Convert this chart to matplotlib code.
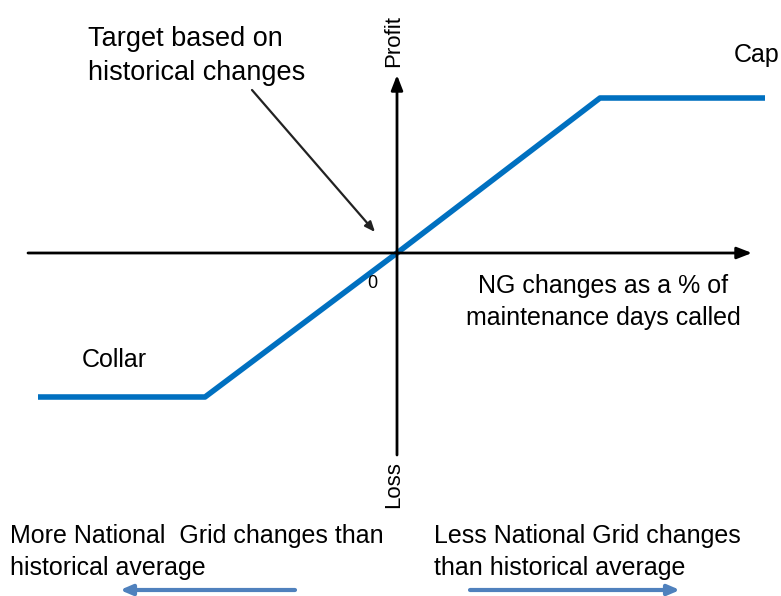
import matplotlib.pyplot as plt

# payoff profile (x: NG changes, y: profit), origin at the axis cross
payoff_x = [-359, -192, 0, 203, 368]
payoff_y = [-144, -144, 0, 155, 155]

plt.rcParams['font.family'] = ['Liberation Sans', 'DejaVu Sans']

fig = plt.figure(figsize=(7.81, 5.96), dpi=100)
ax = fig.add_axes([0, 0, 1, 1])
ax.set_xlim(-397, 384)
ax.set_ylim(-343, 253)
ax.axis('off')

# axes with arrows
ax.annotate('', xy=(355, 0), xytext=(-369, 0),
            arrowprops=dict(arrowstyle='-|>,head_length=0.9,head_width=0.35',
                            color='black', lw=2, shrinkA=0, shrinkB=0))
ax.annotate('', xy=(0, 178), xytext=(0, -202),
            arrowprops=dict(arrowstyle='-|>,head_length=0.9,head_width=0.35',
                            color='black', lw=2, shrinkA=0, shrinkB=0))

# payoff line
ax.plot(payoff_x, payoff_y, color='#0070C0', lw=4, solid_capstyle='butt')

# pointer to target
ax.annotate('', xy=(-22, 21), xytext=(-145, 163),
            arrowprops=dict(arrowstyle='-|>,head_length=0.6,head_width=0.25',
                            color='#222222', lw=1.6, shrinkA=0, shrinkB=0))

fs = 18
ax.text(-309, 197, 'Target based on\nhistorical changes', fontsize=19.5,
        ha='left', va='center', linespacing=1.42)
ax.text(-3, 212, 'Profit', fontsize=16, rotation=90, ha='center', va='center')
ax.text(-3, -232, 'Loss', fontsize=16, rotation=90, ha='center', va='center')
ax.text(-25, -30, '0', fontsize=13, ha='center', va='center')
ax.text(206, -49, 'NG changes as a % of\nmaintenance days called', fontsize=fs,
        ha='center', va='center', linespacing=1.45)
ax.text(-315, -107, 'Collar', fontsize=fs, ha='left', va='center')
ax.text(337, 198, 'Cap', fontsize=fs, ha='left', va='center')

ax.text(-387, -299, 'More National  Grid changes than\nhistorical average',
        fontsize=fs, ha='left', va='center', linespacing=1.45)
ax.text(37, -299, 'Less National Grid changes\nthan historical average',
        fontsize=fs, ha='left', va='center', linespacing=1.45)

# direction arrows at the bottom
ax.annotate('', xy=(-277, -337), xytext=(-102, -337),
            arrowprops=dict(arrowstyle='-|>,head_length=0.7,head_width=0.3',
                            color='#4F81BD', lw=3, shrinkA=0, shrinkB=0))
ax.annotate('', xy=(283, -337), xytext=(73, -337),
            arrowprops=dict(arrowstyle='-|>,head_length=0.7,head_width=0.3',
                            color='#4F81BD', lw=3, shrinkA=0, shrinkB=0))

fig.savefig('out.png', dpi=100)
